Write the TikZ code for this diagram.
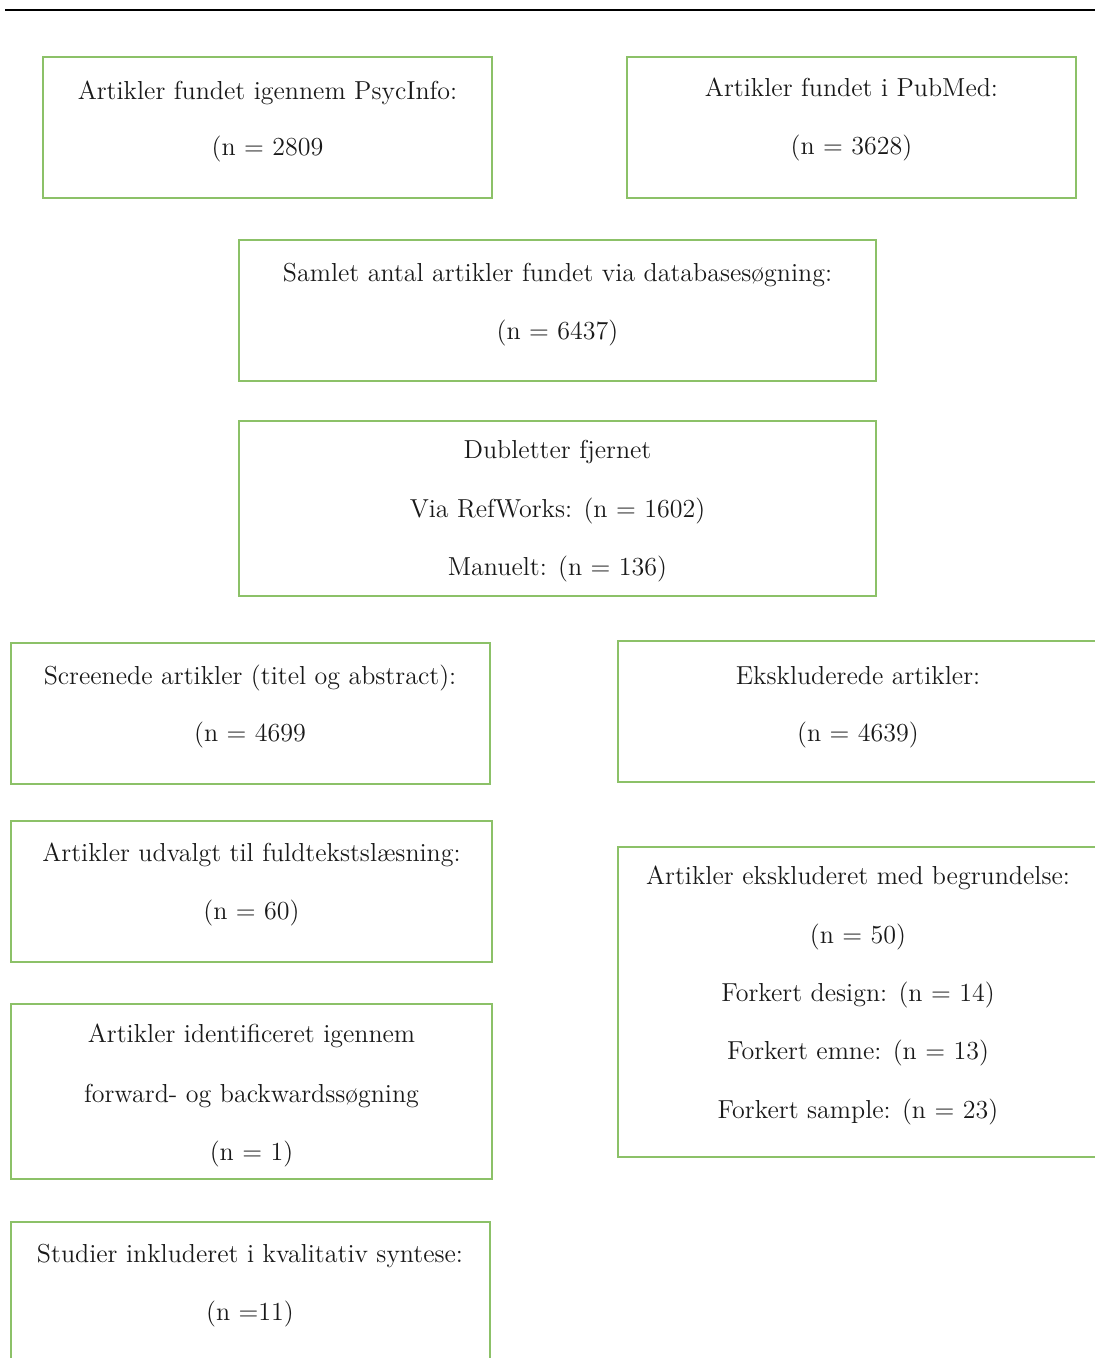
\documentclass[tikz,border=0pt]{standalone}
\usepackage{tikz}
\definecolor{boxgreen}{RGB}{140,193,104}
\tikzset{
  gbox/.style={line width=1pt,boxgreen},
  txt/.style={anchor=base,inner sep=0pt,font=\fontsize{13}{15}\selectfont,text=black!90}
}
\begin{document}
\begin{tikzpicture}[x=0.5pt,y=-0.5pt]
\clip (0,0) rectangle (1095,1358);

%top rule
\draw[line width=1.4pt,black] (5,10) -- (1095,10);

%---------------------------------------------------
%databases
\draw[gbox] (43,57) rectangle (492,198);
\node[txt] (psycA) at (267.5,100) {Artikler fundet igennem PsycInfo:};
\node[txt] (psycB) at (267.5,156) {(n = 2809};

\draw[gbox] (627,57) rectangle (1076,198);
\node[txt] (pubA) at (851.5,97) {Artikler fundet i PubMed:};
\node[txt] (pubB) at (851.5,155) {(n = 3628)};

%---------------------------------------------------
%total and duplicates
\draw[gbox] (239,240) rectangle (876,381);
\node[txt] (totA) at (557.5,282) {Samlet antal artikler fundet via databases\o gning:};
\node[txt] (totB) at (557.5,340) {(n = 6437)};

\draw[gbox] (239,421) rectangle (876,596);
\node[txt] (dupA) at (557.5,458) {Dubletter fjernet};
\node[txt] (dupB) at (557.5,517) {Via RefWorks: (n = 1602)};
\node[txt] (dupC) at (557.5,575) {Manuelt: (n = 136)};

%---------------------------------------------------
%screening, left column
\draw[gbox] (11,643) rectangle (490,784);
\node[txt] (scrA) at (250,684) {Screenede artikler (titel og abstract):};
\node[txt] (scrB) at (250,741) {(n = 4699};

\draw[gbox] (11,821) rectangle (492,962);
\node[txt] (fulA) at (251.5,861) {Artikler udvalgt til fuldtekstsl\ae sning:};
\node[txt] (fulB) at (251.5,919) {(n = 60)};

\draw[gbox] (11,1004) rectangle (492,1179);
\node[txt] (fwdA) at (251.5,1042) {Artikler identificeret igennem};
\node[txt] (fwdB) at (251.5,1102) {forward- og backwardss\o gning};
\node[txt] (fwdC) at (251.5,1160) {(n = 1)};

\draw[gbox] (11,1222) rectangle (490,1380);
\node[txt] (synA) at (250,1262) {Studier inkluderet i kvalitativ syntese:};
\node[txt] (synB) at (250,1320) {(n =11)};

%---------------------------------------------------
%exclusions, right column
\draw[gbox] (618,641) rectangle (1100,782);
\node[txt] (excA) at (858,684) {Ekskluderede artikler:};
\node[txt] (excB) at (858,741) {(n = 4639)};

\draw[gbox] (618,847) rectangle (1100,1157);
\node[txt] (whyA) at (858,884) {Artikler ekskluderet med begrundelse:};
\node[txt] (whyB) at (858,943) {(n = 50)};
\node[txt] (whyC) at (858,1001) {Forkert design: (n = 14)};
\node[txt] (whyD) at (858,1059) {Forkert emne: (n = 13)};
\node[txt] (whyE) at (858,1118) {Forkert sample: (n = 23)};

\end{tikzpicture}
\end{document}
